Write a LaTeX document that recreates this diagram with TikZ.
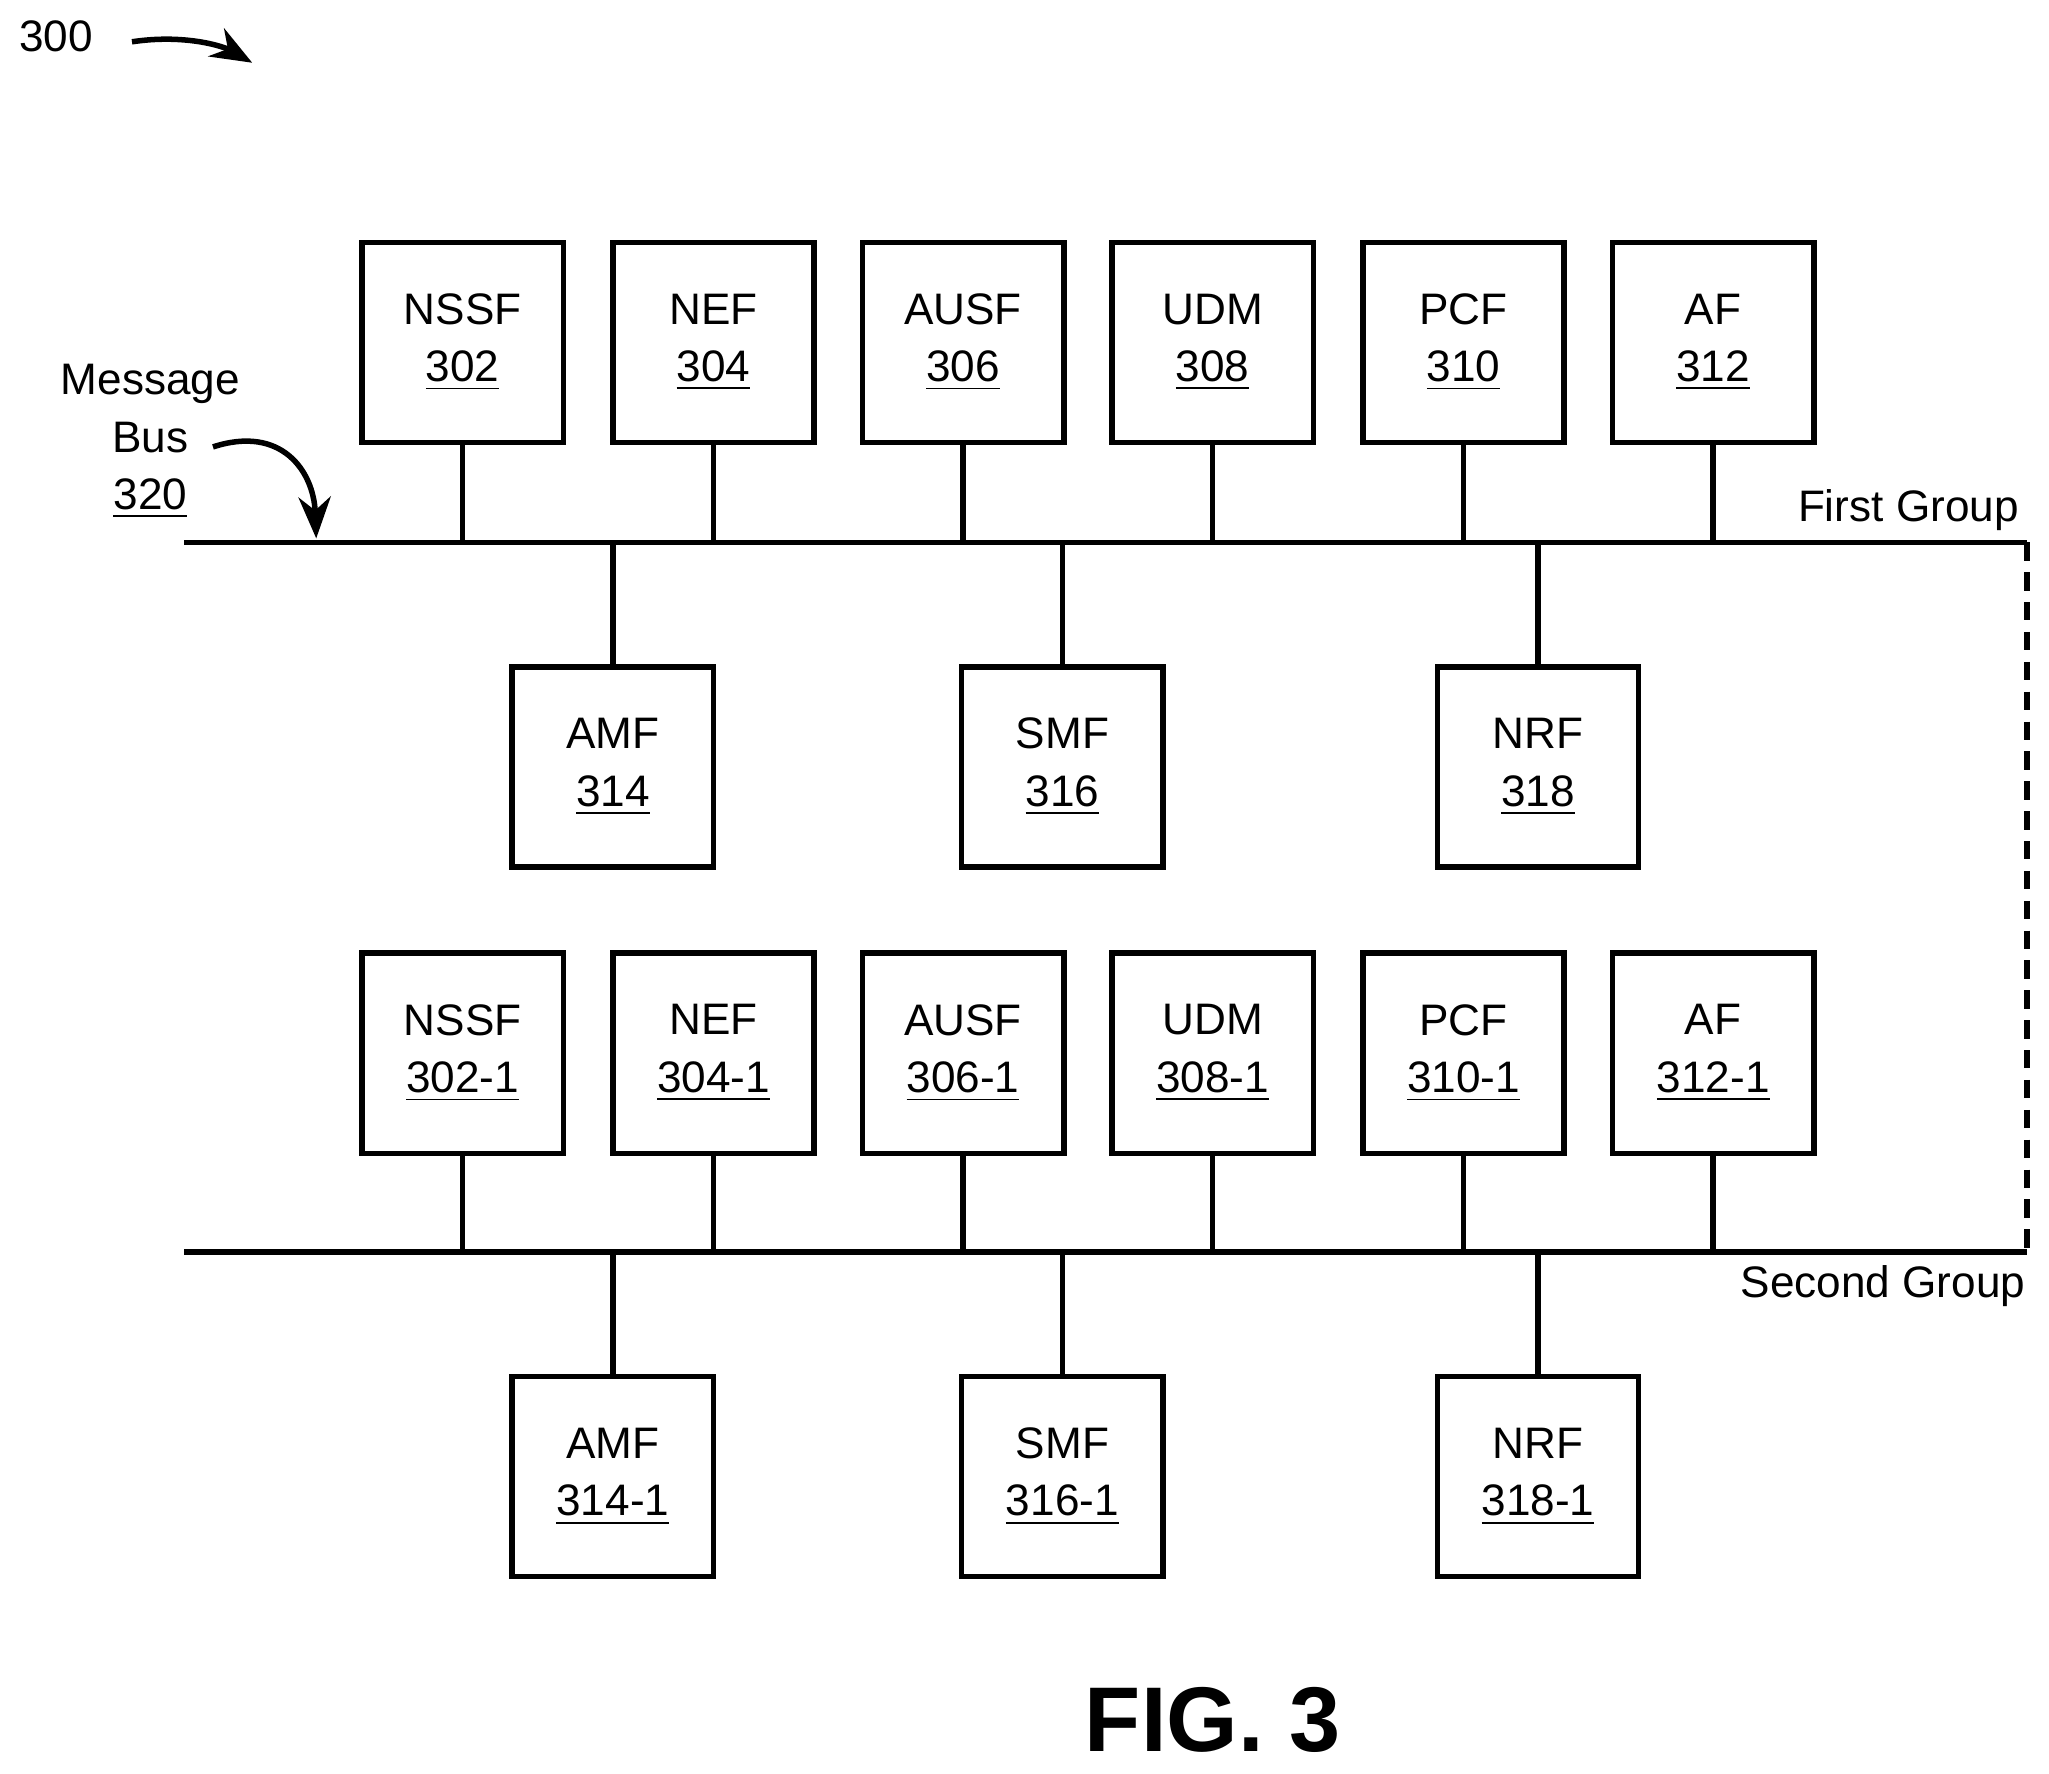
\documentclass[tikz,border=0pt]{standalone}
\usepackage{fontspec}
\setmainfont{Liberation Sans}
\usetikzlibrary{arrows.meta}
\tikzset{
  nf/.style={draw,line width=1.2pt,minimum width=1.54cm,minimum height=1.53cm,align=center,font=\fontsize{9.6}{12.5}\selectfont},
  bus/.style={line width=1.2pt},
  lbl/.style={font=\fontsize{9.6}{12.5}\selectfont},
}
\begin{document}
\begin{tikzpicture}[x=0.01cm,y=-0.01cm]
      \useasboundingbox (0,0) rectangle (1568,1357);
      % first group
      \node[nf] (nssf) at (354,262) {NSSF\\\underline{302}};
      \node[nf] (nef) at (546,262) {NEF\\\underline{304}};
      \node[nf] (ausf) at (737,262) {AUSF\\\underline{306}};
      \node[nf] (udm) at (928,262) {UDM\\\underline{308}};
      \node[nf] (pcf) at (1120,262) {PCF\\\underline{310}};
      \node[nf] (af) at (1311,262) {AF\\\underline{312}};
      \node[nf] (amf) at (469,587) {AMF\\\underline{314}};
      \node[nf] (smf) at (813,587) {SMF\\\underline{316}};
      \node[nf] (nrf) at (1177,587) {NRF\\\underline{318}};
      \coordinate (busl) at (141,415);
      \coordinate (busr) at (1551,415);
      \draw[bus] (busl) -- (busr);
      \foreach \n in {nssf,nef,ausf,udm,pcf,af}
        \draw[bus] (\n.south) -- (\n.south |- busl);
      \foreach \n in {amf,smf,nrf}
        \draw[bus] (\n.north) -- (\n.north |- busl);
      % second group
      \node[nf] (nssfa) at (354,806) {NSSF\\\underline{302-1}};
      \node[nf] (nefa) at (546,806) {NEF\\\underline{304-1}};
      \node[nf] (ausfa) at (737,806) {AUSF\\\underline{306-1}};
      \node[nf] (udma) at (928,806) {UDM\\\underline{308-1}};
      \node[nf] (pcfa) at (1120,806) {PCF\\\underline{310-1}};
      \node[nf] (afa) at (1311,806) {AF\\\underline{312-1}};
      \node[nf] (amfa) at (469,1130) {AMF\\\underline{314-1}};
      \node[nf] (smfa) at (813,1130) {SMF\\\underline{316-1}};
      \node[nf] (nrfa) at (1177,1130) {NRF\\\underline{318-1}};
      \coordinate (busla) at (141,958);
      \coordinate (busra) at (1551,958);
      \draw[bus] (busla) -- (busra);
      \foreach \n in {nssfa,nefa,ausfa,udma,pcfa,afa}
        \draw[bus] (\n.south) -- (\n.south |- busla);
      \foreach \n in {amfa,smfa,nrfa}
        \draw[bus] (\n.north) -- (\n.north |- busla);
      \draw[bus,dash pattern=on 4pt off 2.5pt] (busr) -- (busra);
      \node[lbl,anchor=south east,inner sep=1pt] (first) at (1549,410) {First Group};
      \node[lbl,anchor=north east,inner sep=1pt] (second) at (1554,964) {Second Group};
      % labels
      \node[lbl,align=center] (msg) at (115,338) {Message\\Bus\\\underline{320}};
      \coordinate (msgtip) at (242,412);
      \draw[line width=1.2pt,-{Stealth[length=9pt,width=7pt]}] (163,342) .. controls (215,325) and (240,360) .. (msgtip);
      \node[lbl] (fig) at (43,28) {300};
      \coordinate (figtip) at (193,48);
      \draw[line width=1.2pt,-{Stealth[length=9pt,width=7pt]}] (101,32) .. controls (140,26) and (170,35) .. (figtip);
      \node[font=\bfseries\fontsize{20}{24}\selectfont] (title) at (928,1316) {FIG. 3};
\end{tikzpicture}
\end{document}
